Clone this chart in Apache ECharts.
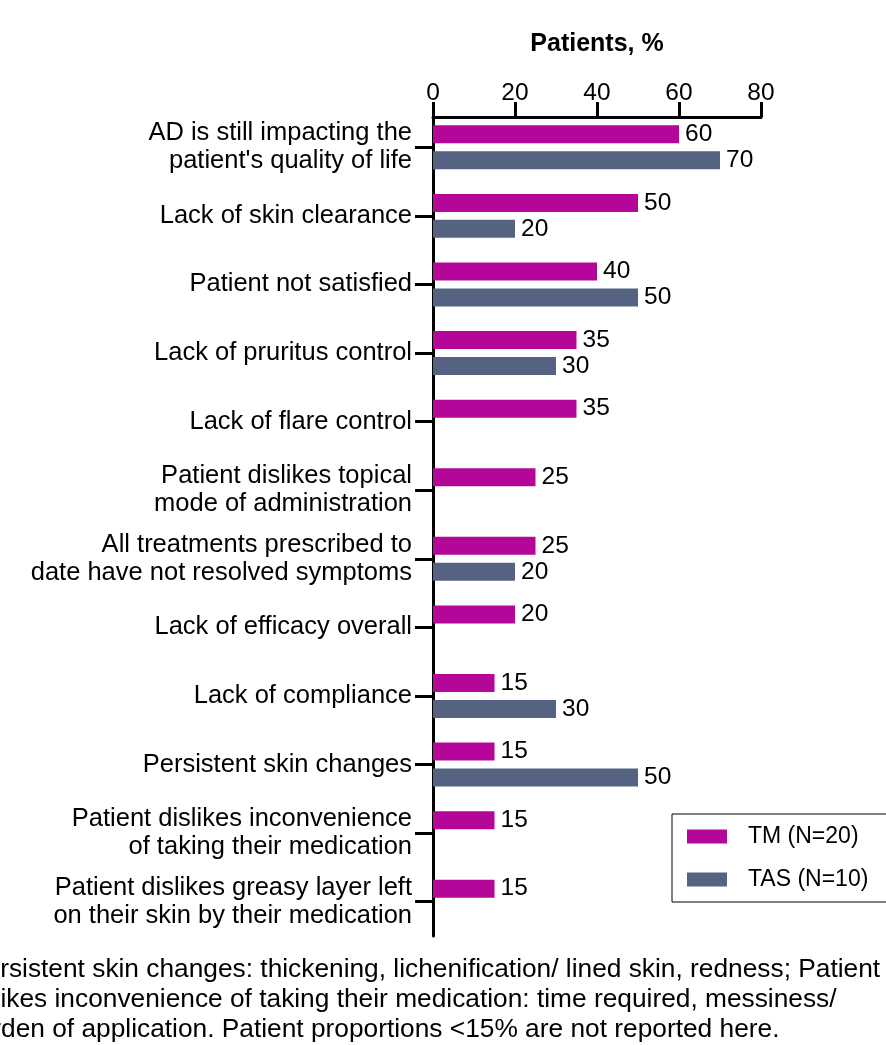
<!DOCTYPE html>
<html>
<head>
<meta charset="utf-8">
<script src="https://cdn.jsdelivr.net/npm/echarts@6/dist/echarts.min.js"></script>
<style>
  html, body { margin: 0; padding: 0; background: #fff; }
  #chart { width: 886px; height: 1045px; }
</style>
</head>
<body>
<div id="chart"></div>
<script>
// 数据
let categories = [
  "AD is still impacting the\npatient's quality of life",
  "Lack of skin clearance",
  "Patient not satisfied",
  "Lack of pruritus control",
  "Lack of flare control",
  "Patient dislikes topical\nmode of administration",
  "All treatments prescribed to\ndate have not resolved symptoms",
  "Lack of efficacy overall",
  "Lack of compliance",
  "Persistent skin changes",
  "Patient dislikes inconvenience\nof taking their medication",
  "Patient dislikes greasy layer left\non their skin by their medication",
]
let tmData = [60, 50, 40, 35, 35, 25, 25, 20, 15, 15, 15, 15]
let tasData = [70, 20, 50, 30, null, null, 20, null, 30, 50, null, null]
let xTicks = [0, 80, 20]  // min, max, interval
let footnote = [
  "Persistent skin changes: thickening, lichenification/ lined skin, redness; Patient",
  "dislikes inconvenience of taking their medication: time required, messiness/",
  "burden of application. Patient proportions <15% are not reported here.",
]

let font = "Liberation Sans, Arial, sans-serif"
let myChart = echarts.init(document.getElementById("chart"))

myChart.setOption({
  animation: false,
  textStyle: { fontFamily: font, color: "#000" },
  grid: {
    left: 433,
    right: 125,
    top: 113,
    bottom: 109,
    containLabel: false,
  },
  xAxis: {
    type: "value",
    position: "top",
    offset: -4,
    min: xTicks[0],
    max: xTicks[1],
    interval: xTicks[2],
    name: "Patients, %",
    nameLocation: "middle",
    nameGap: 60,
    nameMoveOverlap: false,
    nameTextStyle: { fontSize: 25, fontWeight: "bold", color: "#000", fontFamily: font },
    axisLine: { show: true, onZero: false, lineStyle: { color: "#000", width: 3 } },
    axisTick: { show: true, length: 15, lineStyle: { color: "#000", width: 3 } },
    axisLabel: { fontSize: 24.5, color: "#000", margin: 11, fontFamily: font },
    splitLine: { show: false },
  },
  yAxis: {
    type: "category",
    inverse: true,
    data: categories,
    axisLine: { show: true, lineStyle: { color: "#000", width: 3 } },
    axisTick: { show: true, alignWithLabel: true, length: 18, lineStyle: { color: "#000", width: 3 } },
    axisLabel: { fontSize: 25.5, lineHeight: 28, color: "#000", margin: 21, fontFamily: font },
  },
  legend: {
    orient: "vertical",
    left: 672,
    top: 814,
    itemWidth: 40,
    itemHeight: 14,
    itemGap: 20,
    icon: "rect",
    borderColor: "#000",
    borderWidth: 1,
    padding: [11, 30, 11, 15],
    textStyle: { fontSize: 23, color: "#000", fontFamily: font, padding: [0, 0, 0, 16] },
    data: ["TM (N=20)", "TAS (N=10)"],
  },
  series: [
    {
      name: "TM (N=20)",
      type: "bar",
      data: tmData,
      barWidth: 18,
      barGap: "44%",
      itemStyle: { color: "#b5069a" },
      label: { show: true, position: "right", distance: 6, fontSize: 24.5, color: "#000", fontFamily: font },
    },
    {
      name: "TAS (N=10)",
      type: "bar",
      data: tasData,
      barWidth: 18,
      itemStyle: { color: "#556282" },
      label: { show: true, position: "right", distance: 6, fontSize: 24.5, color: "#000", fontFamily: font },
    },
  ],
  graphic: footnote.map((t, i) => ({
    type: "text",
    x: [-32, -39, -37][i],
    y: 970 + i * 30,
    style: { text: t, fontSize: 26.3, fill: "#000", fontFamily: font, verticalAlign: "middle" },
  })),
})

window.addEventListener("resize", () => {
  myChart.resize()
})
</script>
</body>
</html>
